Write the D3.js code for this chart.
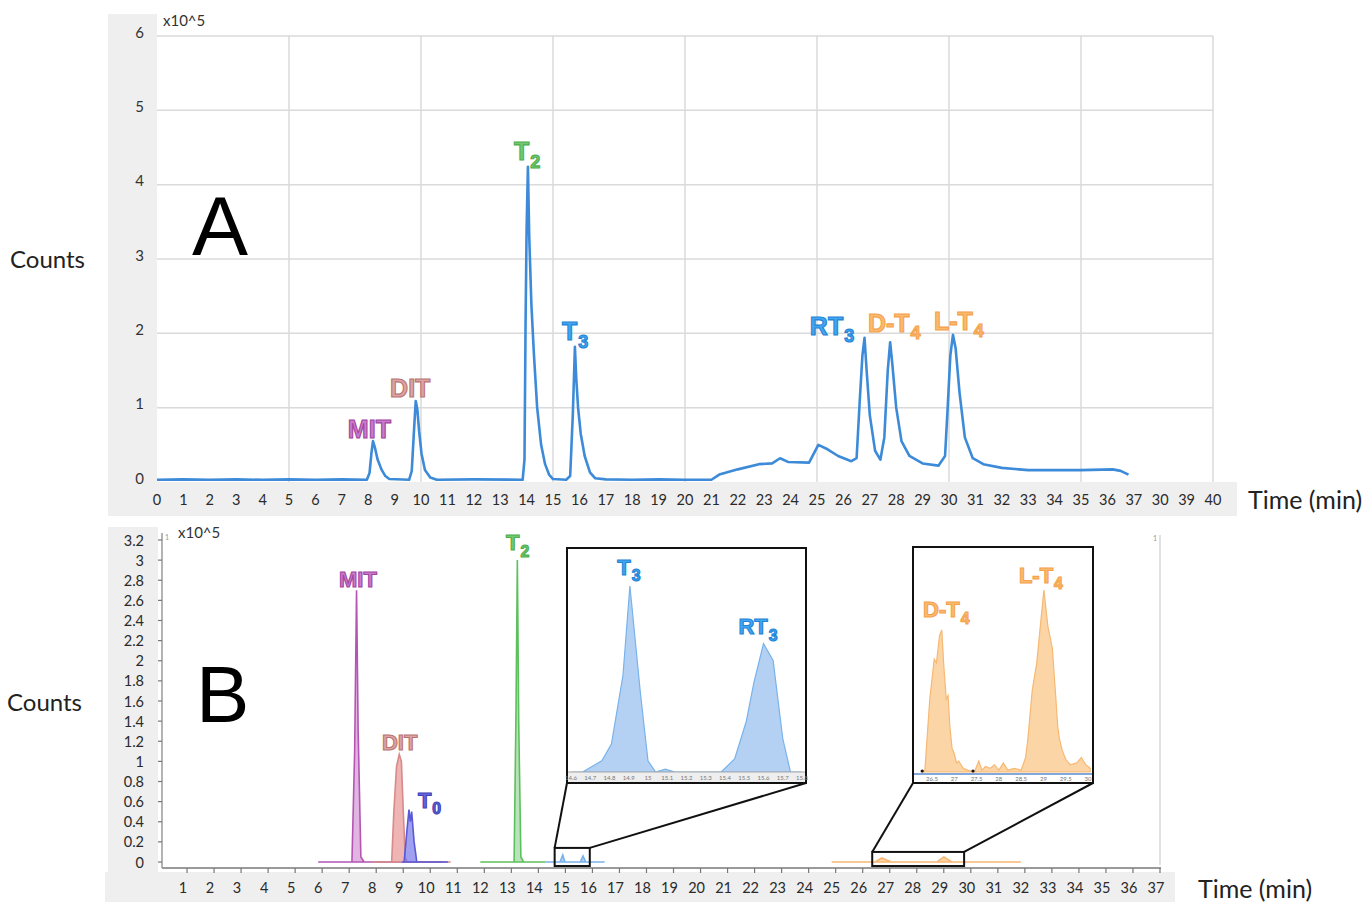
<!DOCTYPE html>
<html>
<head>
<meta charset="utf-8">
<script src="https://cdn.jsdelivr.net/npm/d3@7"></script>
<style>
  body { margin: 0; background: #fff; }
  text { font-family: Lato, "Open Sans", sans-serif; }
  .peak { font-family: "Liberation Sans", Arial, sans-serif; font-weight: bold; }
</style>
</head>
<body>
<svg id="chart" width="1370" height="902"></svg>
<script>
// ---- panel A : full chromatogram (time min, counts x10^5) ----
var traceA = [
  [0, 0.03], [1, 0.035], [2, 0.03], [3, 0.035], [4, 0.03], [5, 0.035], [6, 0.03], [7, 0.035], [7.95, 0.03],
  [8.05, 0.12], [8.12, 0.38], [8.18, 0.55], [8.25, 0.47], [8.35, 0.31], [8.5, 0.17], [8.65, 0.08], [8.8, 0.04],
  [9.55, 0.03], [9.65, 0.15], [9.72, 0.6], [9.8, 1.09], [9.86, 0.98], [9.93, 0.68], [10.02, 0.38], [10.15, 0.16], [10.35, 0.06], [10.6, 0.03],
  [12, 0.035], [13.85, 0.03], [13.92, 0.3], [13.96, 2.1], [14.0, 3.4], [14.05, 4.24], [14.1, 3.3], [14.18, 2.4], [14.28, 1.7],
  [14.4, 1.0], [14.55, 0.5], [14.7, 0.24], [14.85, 0.1], [15.0, 0.04], [15.5, 0.03],
  [15.65, 0.08], [15.75, 0.9], [15.83, 1.82], [15.88, 1.4], [15.95, 1.0], [16.05, 0.65], [16.2, 0.35], [16.4, 0.13], [16.6, 0.05], [17, 0.035],
  [18, 0.03], [19, 0.035], [20, 0.03], [21.0, 0.03], [21.3, 0.1], [22.0, 0.17], [22.8, 0.24], [23.3, 0.25], [23.6, 0.32], [23.9, 0.27],
  [24.7, 0.26], [25.05, 0.5], [25.4, 0.44], [25.8, 0.35], [26.3, 0.28], [26.5, 0.32], [26.62, 1.1], [26.72, 1.7], [26.8, 1.94],
  [26.88, 1.5], [27.0, 0.9], [27.2, 0.42], [27.4, 0.3], [27.55, 0.6], [27.68, 1.5], [27.77, 1.88], [27.85, 1.6], [28.0, 1.0],
  [28.2, 0.55], [28.5, 0.35], [29.0, 0.25], [29.6, 0.22], [29.85, 0.35], [29.95, 1.0], [30.05, 1.7], [30.15, 1.98], [30.25, 1.8],
  [30.4, 1.2], [30.6, 0.6], [30.9, 0.32], [31.3, 0.24], [32.0, 0.19], [33, 0.16], [34, 0.16], [35, 0.16], [36.2, 0.17], [36.5, 0.15], [36.8, 0.1]
];
var tickLabelsA = ["0","1","2","3","4","5","6","7","8","9","10","11","12","13","14","15","16","17","18","19","20",
  "21","22","23","24","25","26","27","28","29","30","31","32","33","34","35","36","37","30","39","40"];
var yTicksA = [0, 1, 2, 3, 4, 5, 6];
var labelsA = [
  { txt: "MIT", sub: "", t: 7.23, v: 0.59, c: "mit" },
  { txt: "DIT", sub: "", t: 8.83, v: 1.14, c: "dit" },
  { txt: "T", sub: "2", t: 13.52, v: 4.33, c: "t2" },
  { txt: "T", sub: "3", t: 15.34, v: 1.91, c: "t3" },
  { txt: "RT", sub: "3", t: 24.73, v: 1.98, c: "t3" },
  { txt: "D-T", sub: "4", t: 26.93, v: 2.02, c: "t4" },
  { txt: "L-T", sub: "4", t: 29.43, v: 2.05, c: "t4" }
];

// ---- panel B : single ion traces ----
var mitB = [[6, 0], [7.25, 0], [7.35, 1.1], [7.42, 2.7], [7.48, 1.3], [7.58, 0.05], [7.7, 0], [10.6, 0]];
var ditB = [[8.0, 0], [8.72, 0], [8.8, 0.5], [8.9, 0.95], [9.0, 1.07], [9.08, 1.0], [9.15, 0.5], [9.22, 0.05], [9.3, 0], [10.9, 0]];
var t0B = [[9.1, 0], [9.18, 0], [9.28, 0.3], [9.36, 0.52], [9.41, 0.4], [9.46, 0.5], [9.55, 0.2], [9.65, 0], [10.8, 0]];
var t2B = [[12, 0], [13.25, 0], [13.32, 1.5], [13.37, 3.0], [13.42, 1.4], [13.5, 0.05], [13.6, 0], [14.4, 0]];
var t3B = [[14.4, 0], [14.95, 0], [15.05, 0.07], [15.13, 0], [15.7, 0], [15.8, 0.06], [15.9, 0], [16.6, 0]];
var t4B = [[25, 0], [26.6, 0], [26.86, 0.04], [27.2, 0], [28.9, 0], [29.15, 0.05], [29.45, 0], [32, 0]];
var yTicksB = [0, 0.2, 0.4, 0.6, 0.8, 1, 1.2, 1.4, 1.6, 1.8, 2, 2.2, 2.4, 2.6, 2.8, 3, 3.2];
var xTicksB = d3.range(1, 38);
var labelsB = [
  { txt: "MIT", sub: "", t: 6.77, v: 2.73, c: "mit" },
  { txt: "DIT", sub: "", t: 8.36, v: 1.11, c: "dit" },
  { txt: "T", sub: "0", t: 9.69, v: 0.54, c: "t0" },
  { txt: "T", sub: "2", t: 12.95, v: 3.10, c: "t2" }
];

// zoom windows (time range, counts range) shown in the insets
var zoomT3 = { t0: 14.75, t1: 16.05, v0: -0.04, v1: 0.14 };
var zoomT4 = { t0: 26.5, t1: 29.9, v0: -0.04, v1: 0.10 };

// inset traces (relative intensity)
var t3Inset = [[14.6, 0], [14.66, 0], [14.76, 6], [14.81, 15], [14.87, 52], [14.906, 100], [14.96, 43], [15.0, 6], [15.04, 0],
  [15.09, 1.5], [15.14, 0], [15.38, 0], [15.45, 7], [15.51, 27], [15.55, 48], [15.6, 69], [15.65, 60], [15.7, 18], [15.74, 0], [15.8, 0]];
var t3InsetTicks = ["14.6","14.7","14.8","14.9","15","15.1","15.2","15.3","15.4","15.5","15.6","15.7","15.8"];
var t4Inset = [[26.25, 0], [26.34, 1], [26.45, 40], [26.55, 62], [26.6, 60], [26.67, 75], [26.72, 78], [26.76, 60], [26.82, 40],
  [26.86, 42], [26.9, 25], [26.95, 13], [27.0, 10], [27.05, 5], [27.1, 6], [27.2, 2], [27.3, 1], [27.45, 0], [27.55, 6],
  [27.62, 1], [27.7, 3], [27.8, 2], [27.9, 4], [28.0, 1], [28.1, 5], [28.2, 1], [28.35, 2], [28.5, 1], [28.6, 8], [28.65, 18],
  [28.75, 45], [28.85, 60], [28.95, 85], [29.01, 100], [29.1, 80], [29.2, 68], [29.28, 40], [29.32, 25], [29.36, 18],
  [29.42, 12], [29.5, 7], [29.6, 4], [29.75, 5], [29.85, 8], [29.95, 4], [30.05, 2]];
var t4InsetTicks = [26.5, 27, 27.5, 28, 28.5, 29, 29.5, 30];
var t4InsetDots = [26.28, 27.42];
var labelsInset = [
  { txt: "T", sub: "3", t: 14.84, v: 106, c: "t3", inset: "a" },
  { txt: "RT", sub: "3", t: 15.47, v: 74, c: "t3", inset: "a" },
  { txt: "D-T", sub: "4", t: 26.30, v: 85, c: "t4", inset: "b" },
  { txt: "L-T", sub: "4", t: 28.45, v: 104, c: "t4", inset: "b" }
];

var colors = {
  mit: { fill: "#c97bc9", stroke: "#a243a2", area: "rgba(200,120,200,0.55)", line: "#b455b4" },
  dit: { fill: "#dca4a4", stroke: "#b97373", area: "rgba(232,150,150,0.7)", line: "#d88a8a" },
  t0:  { fill: "#6767da", stroke: "#3f3fb8", area: "rgba(120,120,235,0.7)", line: "#5a5ad8" },
  t2:  { fill: "#72c972", stroke: "#4caf4c", area: "rgba(120,200,120,0.5)", line: "#5cc05c" },
  t3:  { fill: "#44a5f0", stroke: "#1f84d6", area: "rgba(140,185,238,0.65)", line: "#78b2ea" },
  t4:  { fill: "#fbba6e", stroke: "#f4a24c", area: "rgba(250,190,120,0.65)", line: "#f6b872" }
};

var svg = d3.select("#chart");

// ================= PANEL A =================
var xA = d3.scaleLinear().domain([0, 40]).range([157, 1213]);
var yA = d3.scaleLinear().domain([0, 6]).range([482, 36]);

svg.append("rect").attr("x", 108).attr("y", 14).attr("width", 49).attr("height", 502).attr("fill", "#efefef");
svg.append("rect").attr("x", 108).attr("y", 482).attr("width", 1129).attr("height", 34).attr("fill", "#efefef");

var gridA = svg.append("g");
gridA.selectAll(".gx").data(d3.range(5, 41, 5)).enter().append("line")
  .attr("x1", function (d) { return xA(d); }).attr("x2", function (d) { return xA(d); })
  .attr("y1", yA(6)).attr("y2", yA(0))
  .attr("stroke", "#dadada").attr("stroke-width", 1.5);
gridA.selectAll(".gy").data(yTicksA.slice(1)).enter().append("line")
  .attr("x1", xA(0)).attr("x2", xA(40))
  .attr("y1", function (d) { return yA(d); }).attr("y2", function (d) { return yA(d); })
  .attr("stroke", "#dadada").attr("stroke-width", 1.5);

svg.append("g").selectAll("text").data(yTicksA).enter().append("text")
  .attr("x", 144).attr("y", function (d) { return yA(d); }).attr("dy", "0.1em")
  .attr("text-anchor", "end").attr("font-size", 15).attr("fill", "#333")
  .text(function (d) { return d; });

svg.append("g").selectAll("text").data(tickLabelsA).enter().append("text")
  .attr("x", function (d, i) { return xA(i); }).attr("y", 505)
  .attr("text-anchor", "middle").attr("font-size", 14.5).attr("fill", "#2a2a2a")
  .text(function (d) { return d; });

svg.append("text").attr("x", 163).attr("y", 26).attr("font-size", 15).attr("fill", "#333").text("x10^5");

svg.append("path").datum(traceA)
  .attr("d", d3.line().x(function (d) { return xA(d[0]); }).y(function (d) { return yA(d[1]); }))
  .attr("fill", "none").attr("stroke", "#3d8bd8").attr("stroke-width", 2.6).attr("stroke-linejoin", "round");

svg.append("text").attr("x", 10).attr("y", 268).attr("font-size", 24).attr("fill", "#222").text("Counts");
svg.append("text").attr("x", 1248).attr("y", 509).attr("font-size", 25).attr("fill", "#222").text("Time (min)");
svg.append("text").attr("x", 192).attr("y", 255).attr("font-size", 84)
  .style("font-family", "'Liberation Sans', Arial, sans-serif").attr("fill", "#000").text("A");

function peakLabel(g, d, x, y, size) {
  var c = colors[d.c];
  var t = g.append("text").attr("class", "peak").attr("x", x).attr("y", y)
    .attr("font-size", size).attr("fill", c.fill).attr("stroke", c.stroke).attr("stroke-width", 1.1)
    .text(d.txt);
  if (d.sub) {
    t.append("tspan").attr("dy", size * 0.3).attr("dx", 1).attr("font-size", size * 0.72).text(d.sub);
  }
}
var labA = svg.append("g");
labelsA.forEach(function (d) { peakLabel(labA, d, xA(d.t), yA(d.v), 25); });

// ================= PANEL B =================
var xB = d3.scaleLinear().domain([0, 37]).range([156, 1156]);
var yB = d3.scaleLinear().domain([0, 3.2]).range([862, 540]);

svg.append("rect").attr("x", 108).attr("y", 527).attr("width", 50).attr("height", 345).attr("fill", "#efefef");
svg.append("rect").attr("x", 105).attr("y", 872).attr("width", 1070).attr("height", 30).attr("fill", "#efefef");

// axes
svg.append("line").attr("x1", 162).attr("x2", 162).attr("y1", 533).attr("y2", 868).attr("stroke", "#9a9a9a").attr("stroke-width", 1.5);
svg.append("line").attr("x1", 162).attr("x2", 1161).attr("y1", 868).attr("y2", 868).attr("stroke", "#9a9a9a").attr("stroke-width", 2);
svg.append("line").attr("x1", 1160).attr("x2", 1160).attr("y1", 535).attr("y2", 865).attr("stroke", "#cfcfcf").attr("stroke-width", 1.2);
svg.append("text").attr("x", 1153).attr("y", 541).attr("font-size", 7).attr("fill", "#999").text("1");
svg.append("text").attr("x", 165).attr("y", 540).attr("font-size", 7).attr("fill", "#999").text("1");

svg.append("g").selectAll("line").data(yTicksB).enter().append("line")
  .attr("x1", 158).attr("x2", 162)
  .attr("y1", function (d) { return yB(d); }).attr("y2", function (d) { return yB(d); })
  .attr("stroke", "#777").attr("stroke-width", 1.2);
svg.append("g").selectAll("text").data(yTicksB).enter().append("text")
  .attr("x", 144).attr("y", function (d) { return yB(d); }).attr("dy", "0.38em")
  .attr("text-anchor", "end").attr("font-size", 14.5).attr("fill", "#2a2a2a")
  .text(function (d) { return d3.format("~g")(d); });

svg.append("g").selectAll("line").data(xTicksB).enter().append("line")
  .attr("x1", function (d) { return xB(d) + 4; }).attr("x2", function (d) { return xB(d) + 4; })
  .attr("y1", 868).attr("y2", 873).attr("stroke", "#777").attr("stroke-width", 1.2);
svg.append("g").selectAll("text").data(xTicksB).enter().append("text")
  .attr("x", function (d) { return xB(d); }).attr("y", 893)
  .attr("text-anchor", "middle").attr("font-size", 14.5).attr("fill", "#2a2a2a")
  .text(function (d) { return d; });

svg.append("text").attr("x", 178).attr("y", 538).attr("font-size", 15).attr("fill", "#333").text("x10^5");
svg.append("text").attr("x", 7).attr("y", 711).attr("font-size", 24).attr("fill", "#222").text("Counts");
svg.append("text").attr("x", 1198).attr("y", 898).attr("font-size", 25).attr("fill", "#222").text("Time (min)");
svg.append("text").attr("x", 196).attr("y", 722).attr("font-size", 80)
  .style("font-family", "'Liberation Sans', Arial, sans-serif").attr("fill", "#000").text("B");

var areaB = d3.area().x(function (d) { return xB(d[0]); }).y0(yB(0)).y1(function (d) { return yB(d[1]); });
var seriesB = [
  { data: t4B, c: "t4" }, { data: t3B, c: "t3" }, { data: t2B, c: "t2" },
  { data: mitB, c: "mit" }, { data: ditB, c: "dit" }, { data: t0B, c: "t0" }
];
svg.append("g").selectAll("path").data(seriesB).enter().append("path")
  .attr("d", function (d) { return areaB(d.data); })
  .attr("fill", function (d) { return colors[d.c].area; })
  .attr("stroke", function (d) { return colors[d.c].line; })
  .attr("stroke-width", 1.6);

var labB = svg.append("g");
labelsB.forEach(function (d) { peakLabel(labB, d, xB(d.t), yB(d.v), 22); });

// ================= INSETS =================
var insets = {
  a: { x: 567, y: 548, w: 239, h: 235, zoom: zoomT3,
       xs: d3.scaleLinear().domain([14.6, 15.8]).range([571, 802]),
       ys: d3.scaleLinear().domain([0, 100]).range([772, 586]), data: t3Inset, c: "t3" },
  b: { x: 913, y: 547, w: 180, h: 236, zoom: zoomT4,
       xs: d3.scaleLinear().domain([26.5, 30]).range([932, 1088]),
       ys: d3.scaleLinear().domain([0, 100]).range([772, 590]), data: t4Inset, c: "t4" }
};

Object.keys(insets).forEach(function (k) {
  var s = insets[k];
  var g = svg.append("g");
  var z = s.zoom;
  var rx0 = xB(z.t0), rx1 = xB(z.t1), ry0 = yB(z.v1), ry1 = yB(z.v0);
  // connector lines
  g.append("line").attr("x1", rx0).attr("y1", ry0).attr("x2", s.x).attr("y2", s.y + s.h)
    .attr("stroke", "#111").attr("stroke-width", 2);
  g.append("line").attr("x1", rx1).attr("y1", ry0).attr("x2", s.x + s.w).attr("y2", s.y + s.h)
    .attr("stroke", "#111").attr("stroke-width", 2);
  g.append("rect").attr("x", rx0).attr("y", ry0).attr("width", rx1 - rx0).attr("height", ry1 - ry0)
    .attr("fill", "none").attr("stroke", "#111").attr("stroke-width", 2);
  // inset box
  g.append("rect").attr("x", s.x).attr("y", s.y).attr("width", s.w).attr("height", s.h)
    .attr("fill", "#fff").attr("stroke", "#111").attr("stroke-width", 2);
  var area = d3.area().x(function (d) { return s.xs(d[0]); }).y0(s.ys(0)).y1(function (d) { return s.ys(d[1]); });
  g.append("path").datum(s.data).attr("d", area)
    .attr("fill", colors[s.c].area).attr("stroke", colors[s.c].line).attr("stroke-width", 1.2);
});

// inset a axis strip
var ia = insets.a;
svg.append("rect").attr("x", ia.x + 1).attr("y", 772).attr("width", ia.w - 2).attr("height", 10).attr("fill", "#eeeeee");
svg.append("line").attr("x1", ia.x + 1).attr("x2", ia.x + ia.w - 1).attr("y1", 772).attr("y2", 772).attr("stroke", "#aaa");
svg.append("g").selectAll("text").data(t3InsetTicks).enter().append("text")
  .attr("x", function (d) { return ia.xs(+d); }).attr("y", 780)
  .attr("text-anchor", "middle").attr("font-size", 6).attr("fill", "#777")
  .text(function (d) { return d; });

// inset b axis strip
var ib = insets.b;
svg.append("line").attr("x1", ib.x + 1).attr("x2", ib.x + ib.w - 1).attr("y1", 774).attr("y2", 774)
  .attr("stroke", "#5b8bd0").attr("stroke-width", 1.6);
svg.append("g").selectAll("text").data(t4InsetTicks).enter().append("text")
  .attr("x", function (d) { return ib.xs(d); }).attr("y", 781)
  .attr("text-anchor", "middle").attr("font-size", 6).attr("fill", "#777")
  .text(function (d) { return d; });
svg.append("g").selectAll("circle").data(t4InsetDots).enter().append("circle")
  .attr("cx", function (d) { return ib.xs(d); }).attr("cy", 771).attr("r", 1.6).attr("fill", "#111");

var labI = svg.append("g");
labelsInset.forEach(function (d) {
  var s = insets[d.inset];
  peakLabel(labI, d, s.xs(d.t), s.ys(d.v), 22);
});
</script>
</body>
</html>
